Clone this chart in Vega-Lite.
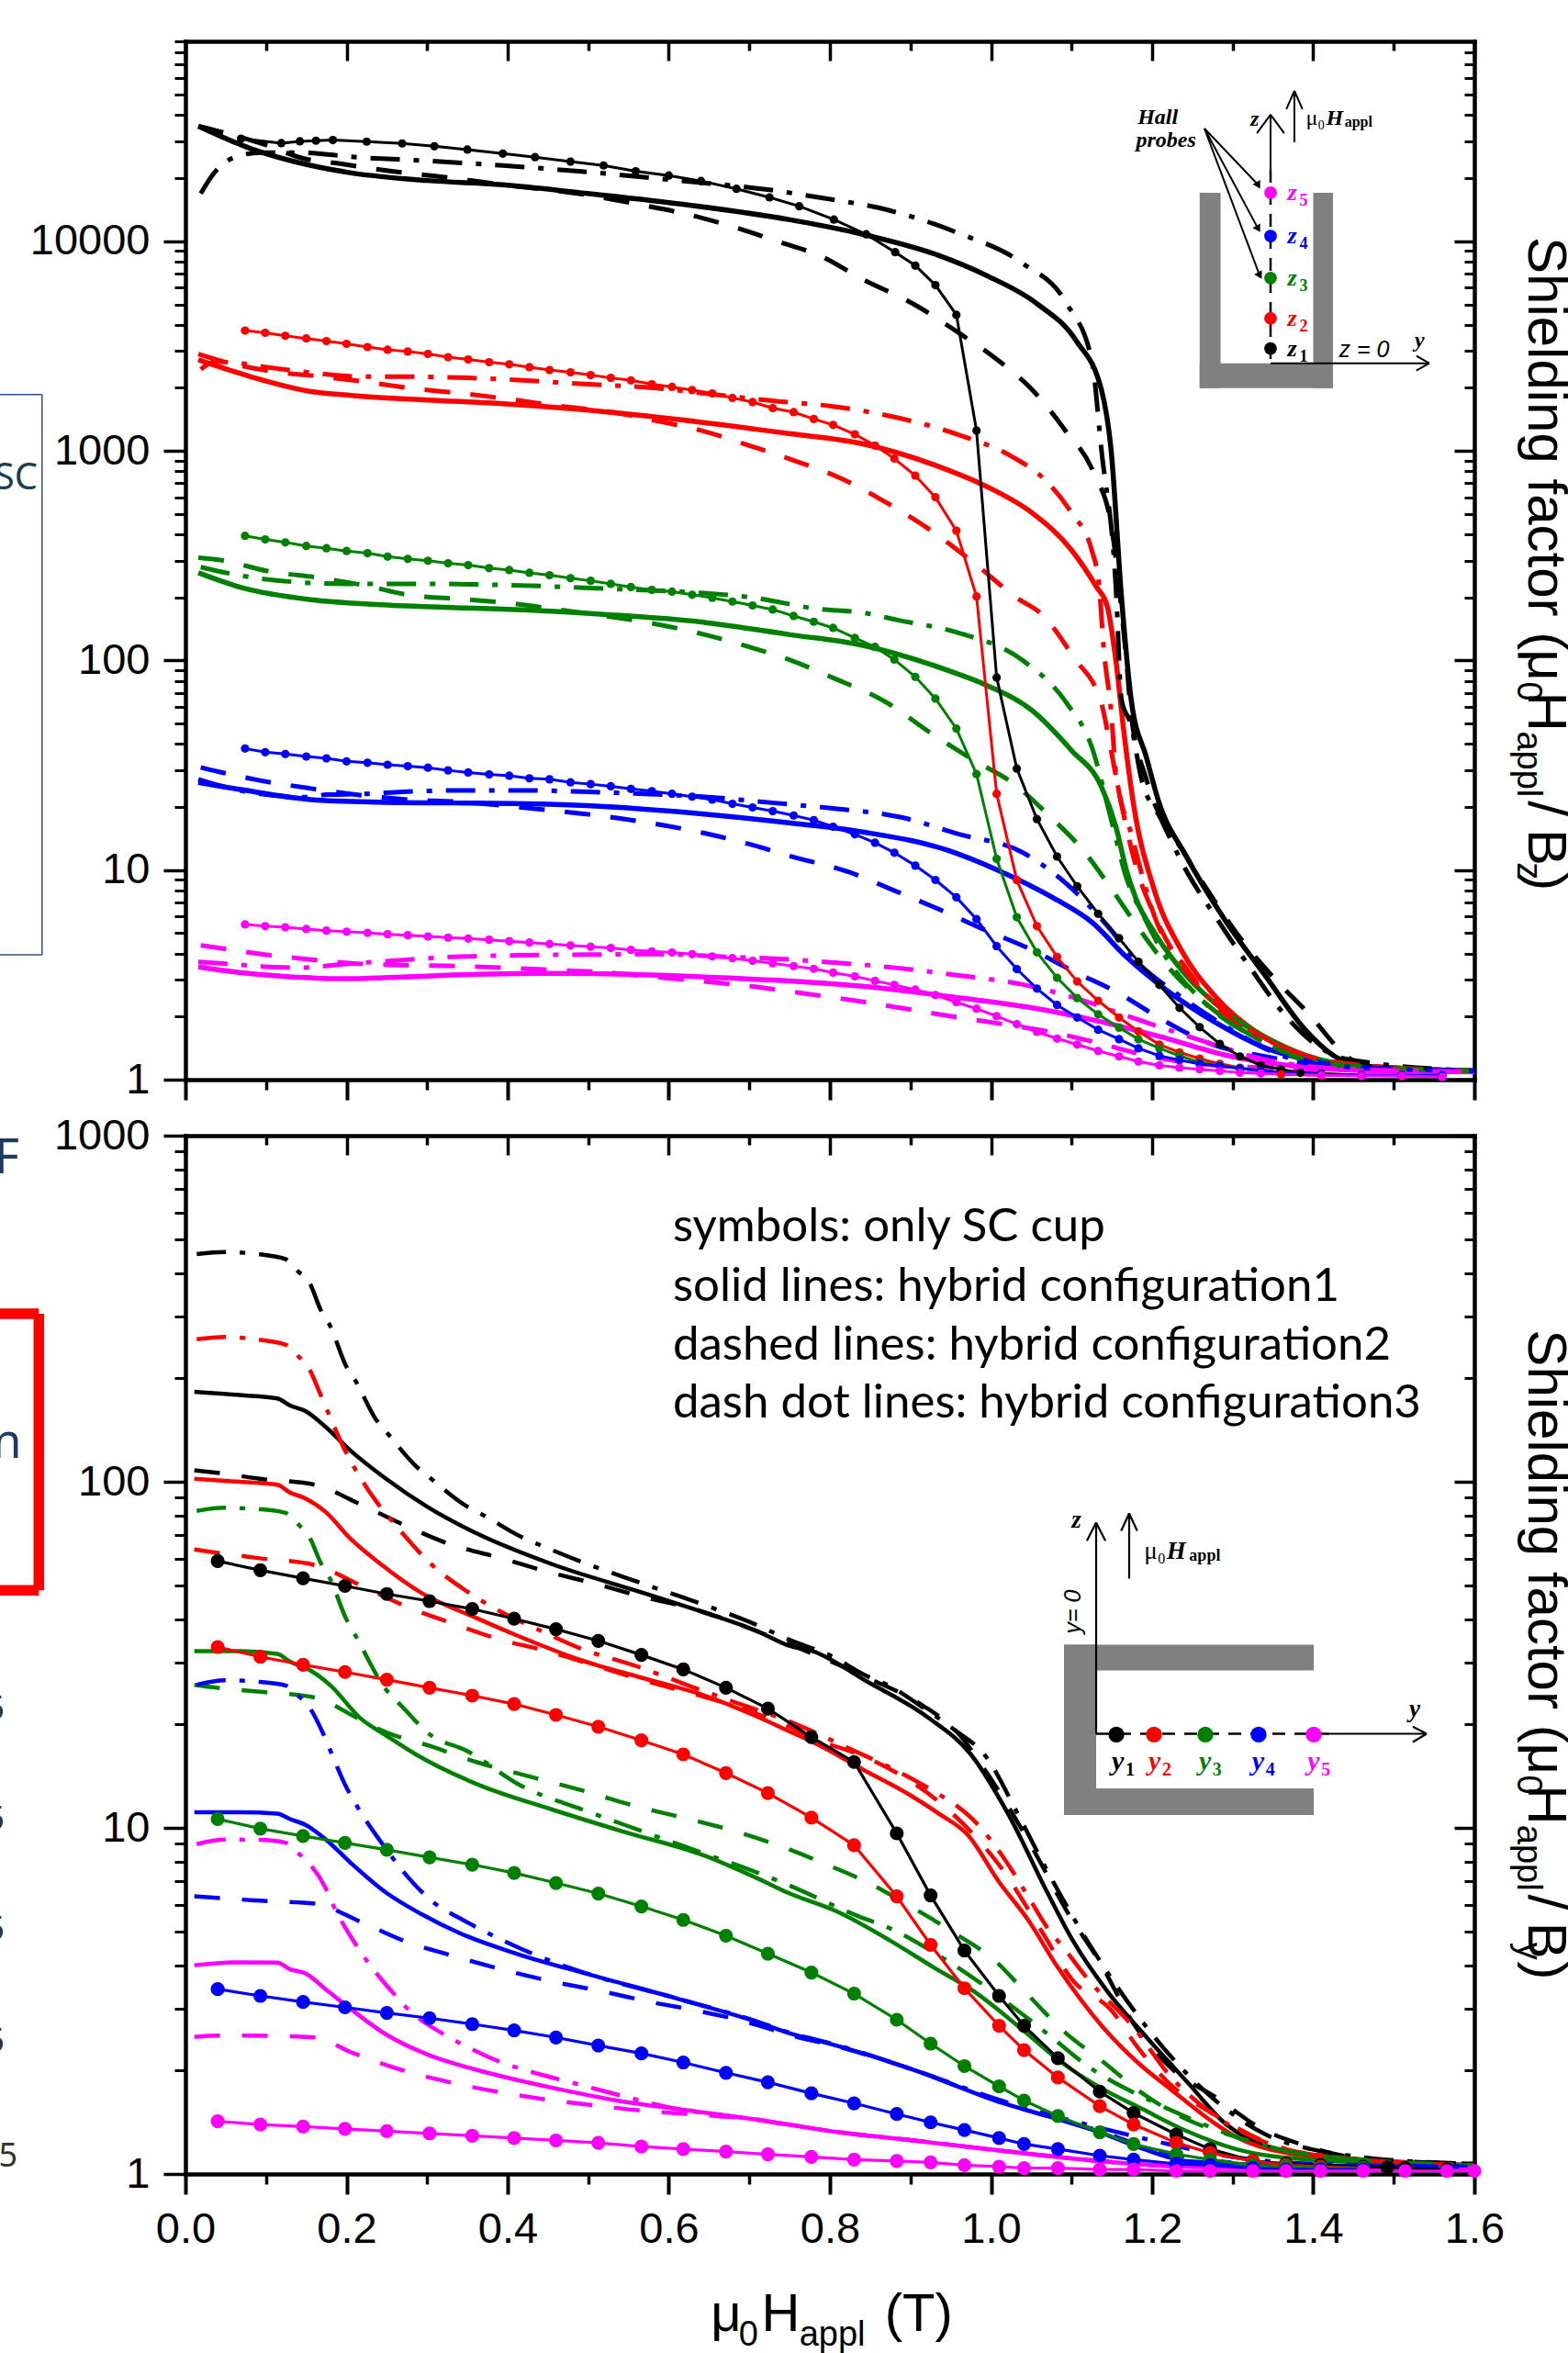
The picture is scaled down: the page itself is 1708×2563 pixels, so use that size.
{"$schema":"https://vega.github.io/schema/vega-lite/v6.json","autosize":"none","padding":{"left":202,"top":45,"right":1506,"bottom":2518},"background":"white","bounds":"flush","spacing":61,"config":{"view":{"stroke":null},"axis":{"grid":false,"title":null,"labelFont":"Liberation Sans","labelFontSize":47,"labelColor":"black","tickColor":"black","domainColor":"black","domainCap":"square","labelFlush":false,"labelOverlap":false,"labelBound":false}},
"datasets":{
"topSolid":[
{"probe":1,"x":0.016,"y":35400},{"probe":1,"x":0.081,"y":27700},{"probe":1,"x":0.156,"y":23000},{"probe":1,"x":0.206,"y":21200},{"probe":1,"x":0.3,"y":19500},{"probe":1,"x":0.394,"y":18600},{"probe":1,"x":0.4875,"y":17100},{"probe":1,"x":0.6125,"y":15100},{"probe":1,"x":0.749,"y":12700},{"probe":1,"x":0.841,"y":10800},{"probe":1,"x":0.934,"y":8590},{"probe":1,"x":0.995,"y":6850},{"probe":1,"x":1.057,"y":5040},{"probe":1,"x":1.106,"y":3340},{"probe":1,"x":1.137,"y":1960},{"probe":1,"x":1.149,"y":1016},{"probe":1,"x":1.162,"y":200},{"probe":1,"x":1.174,"y":65},{"probe":1,"x":1.193,"y":34.4},{"probe":1,"x":1.208,"y":21.3},{"probe":1,"x":1.242,"y":11.7},{"probe":1,"x":1.291,"y":5.73},{"probe":1,"x":1.34,"y":3.15},{"probe":1,"x":1.39,"y":1.73},{"probe":1,"x":1.427,"y":1.29},{"probe":1,"x":1.464,"y":1.16},{"probe":1,"x":1.6,"y":1.1},
{"probe":2,"x":0.016,"y":2720},{"probe":2,"x":0.081,"y":2260},{"probe":2,"x":0.156,"y":1920},{"probe":2,"x":0.206,"y":1840},{"probe":2,"x":0.3,"y":1750},{"probe":2,"x":0.394,"y":1680},{"probe":2,"x":0.4875,"y":1580},{"probe":2,"x":0.6125,"y":1410},{"probe":2,"x":0.749,"y":1210},{"probe":2,"x":0.841,"y":1080},{"probe":2,"x":0.934,"y":845},{"probe":2,"x":0.995,"y":675},{"probe":2,"x":1.051,"y":506},{"probe":2,"x":1.1,"y":336},{"probe":2,"x":1.131,"y":224},{"probe":2,"x":1.144,"y":183},{"probe":2,"x":1.155,"y":100},{"probe":2,"x":1.165,"y":45.4},{"probe":2,"x":1.177,"y":20.5},{"probe":2,"x":1.202,"y":8.18},{"probe":2,"x":1.236,"y":4.16},{"probe":2,"x":1.279,"y":2.48},{"probe":2,"x":1.335,"y":1.63},{"probe":2,"x":1.39,"y":1.29},{"probe":2,"x":1.458,"y":1.16},{"probe":2,"x":1.6,"y":1.1},
{"probe":3,"x":0.016,"y":262},{"probe":3,"x":0.069,"y":223},{"probe":3,"x":0.156,"y":195},{"probe":3,"x":0.2375,"y":185},{"probe":3,"x":0.331,"y":179},{"probe":3,"x":0.425,"y":174},{"probe":3,"x":0.519,"y":166},{"probe":3,"x":0.644,"y":152},{"probe":3,"x":0.749,"y":133},{"probe":3,"x":0.841,"y":118},{"probe":3,"x":0.947,"y":89.5},{"probe":3,"x":0.995,"y":76},{"probe":3,"x":1.051,"y":57.7},{"probe":3,"x":1.1,"y":37.2},{"probe":3,"x":1.137,"y":25},{"probe":3,"x":1.155,"y":16.1},{"probe":3,"x":1.168,"y":10},{"probe":3,"x":1.18,"y":7.3},{"probe":3,"x":1.205,"y":4.89},{"probe":3,"x":1.242,"y":3.15},{"probe":3,"x":1.291,"y":2.11},{"probe":3,"x":1.34,"y":1.6},{"probe":3,"x":1.39,"y":1.31},{"probe":3,"x":1.458,"y":1.16},{"probe":3,"x":1.6,"y":1.1},
{"probe":4,"x":0.016,"y":26.2},{"probe":4,"x":0.069,"y":24.2},{"probe":4,"x":0.156,"y":21.7},{"probe":4,"x":0.2375,"y":21.1},{"probe":4,"x":0.331,"y":20.9},{"probe":4,"x":0.425,"y":20.7},{"probe":4,"x":0.519,"y":20.1},{"probe":4,"x":0.644,"y":18.5},{"probe":4,"x":0.749,"y":16.8},{"probe":4,"x":0.841,"y":15.2},{"probe":4,"x":0.947,"y":12.4},{"probe":4,"x":1.008,"y":10},{"probe":4,"x":1.076,"y":7.41},{"probe":4,"x":1.126,"y":5.61},{"probe":4,"x":1.168,"y":3.85},{"probe":4,"x":1.217,"y":2.69},{"probe":4,"x":1.279,"y":1.87},{"probe":4,"x":1.34,"y":1.42},{"probe":4,"x":1.408,"y":1.21},{"probe":4,"x":1.489,"y":1.12},{"probe":4,"x":1.6,"y":1.1},
{"probe":5,"x":0.016,"y":3.45},{"probe":5,"x":0.069,"y":3.24},{"probe":5,"x":0.156,"y":3.06},{"probe":5,"x":0.194,"y":3.03},{"probe":5,"x":0.269,"y":3.09},{"probe":5,"x":0.3625,"y":3.18},{"probe":5,"x":0.456,"y":3.21},{"probe":5,"x":0.55,"y":3.18},{"probe":5,"x":0.644,"y":3.09},{"probe":5,"x":0.749,"y":2.96},{"probe":5,"x":0.841,"y":2.79},{"probe":5,"x":0.953,"y":2.48},{"probe":5,"x":1.051,"y":2.2},{"probe":5,"x":1.131,"y":1.91},{"probe":5,"x":1.211,"y":1.6},{"probe":5,"x":1.291,"y":1.31},{"probe":5,"x":1.377,"y":1.16},{"probe":5,"x":1.489,"y":1.1},{"probe":5,"x":1.6,"y":1.09}],
"topDash":[
{"probe":1,"x":0.016,"y":35400},{"probe":1,"x":0.044,"y":33300},{"probe":1,"x":0.1,"y":28800},{"probe":1,"x":0.144,"y":25000},{"probe":1,"x":0.194,"y":23400},{"probe":1,"x":0.256,"y":21600},{"probe":1,"x":0.319,"y":20300},{"probe":1,"x":0.381,"y":18900},{"probe":1,"x":0.5,"y":16600},{"probe":1,"x":0.5625,"y":15000},{"probe":1,"x":0.625,"y":13400},{"probe":1,"x":0.681,"y":11700},{"probe":1,"x":0.738,"y":9900},{"probe":1,"x":0.786,"y":8590},{"probe":1,"x":0.841,"y":6580},{"probe":1,"x":0.903,"y":5040},{"probe":1,"x":0.958,"y":3700},{"probe":1,"x":1.008,"y":2720},{"probe":1,"x":1.051,"y":1960},{"probe":1,"x":1.091,"y":1270},{"probe":1,"x":1.128,"y":778},{"probe":1,"x":1.149,"y":447},{"probe":1,"x":1.159,"y":224},{"probe":1,"x":1.168,"y":101},{"probe":1,"x":1.174,"y":55},{"probe":1,"x":1.193,"y":27},{"probe":1,"x":1.242,"y":11.7},{"probe":1,"x":1.273,"y":7.57},{"probe":1,"x":1.307,"y":4.87},{"probe":1,"x":1.35,"y":3.09},{"probe":1,"x":1.396,"y":2.03},{"probe":1,"x":1.433,"y":1.39},{"probe":1,"x":1.464,"y":1.16},{"probe":1,"x":1.6,"y":1.1},
{"probe":2,"x":0.016,"y":2900},{"probe":2,"x":0.047,"y":2670},{"probe":2,"x":0.106,"y":2400},{"probe":2,"x":0.169,"y":2260},{"probe":2,"x":0.225,"y":2130},{"probe":2,"x":0.275,"y":2000},{"probe":2,"x":0.344,"y":1880},{"probe":2,"x":0.4,"y":1770},{"probe":2,"x":0.4625,"y":1640},{"probe":2,"x":0.531,"y":1530},{"probe":2,"x":0.581,"y":1400},{"probe":2,"x":0.644,"y":1240},{"probe":2,"x":0.7,"y":1060},{"probe":2,"x":0.749,"y":918},{"probe":2,"x":0.816,"y":733},{"probe":2,"x":0.872,"y":561},{"probe":2,"x":0.924,"y":421},{"probe":2,"x":0.977,"y":296},{"probe":2,"x":1.032,"y":199},{"probe":2,"x":1.063,"y":166},{"probe":2,"x":1.103,"y":103},{"probe":2,"x":1.137,"y":62.5},{"probe":2,"x":1.149,"y":37.2},{"probe":2,"x":1.162,"y":20.5},{"probe":2,"x":1.18,"y":10.4},{"probe":2,"x":1.202,"y":6.19},{"probe":2,"x":1.236,"y":3.55},{"probe":2,"x":1.291,"y":2.11},{"probe":2,"x":1.365,"y":1.42},{"probe":2,"x":1.427,"y":1.21},{"probe":2,"x":1.6,"y":1.1},
{"probe":3,"x":0.016,"y":309},{"probe":3,"x":0.047,"y":300},{"probe":3,"x":0.1,"y":268},{"probe":3,"x":0.169,"y":247},{"probe":3,"x":0.225,"y":227},{"probe":3,"x":0.275,"y":206},{"probe":3,"x":0.344,"y":196},{"probe":3,"x":0.406,"y":187},{"probe":3,"x":0.4625,"y":175},{"probe":3,"x":0.531,"y":161},{"probe":3,"x":0.581,"y":150},{"probe":3,"x":0.644,"y":133},{"probe":3,"x":0.7,"y":116},{"probe":3,"x":0.749,"y":101},{"probe":3,"x":0.804,"y":82.6},{"probe":3,"x":0.872,"y":62.5},{"probe":3,"x":0.924,"y":45.4},{"probe":3,"x":0.977,"y":33.7},{"probe":3,"x":1.027,"y":26},{"probe":3,"x":1.072,"y":18.2},{"probe":3,"x":1.116,"y":12.2},{"probe":3,"x":1.149,"y":8.18},{"probe":3,"x":1.18,"y":5.5},{"probe":3,"x":1.217,"y":3.55},{"probe":3,"x":1.279,"y":2.11},{"probe":3,"x":1.365,"y":1.36},{"probe":3,"x":1.427,"y":1.16},{"probe":3,"x":1.6,"y":1.1},
{"probe":4,"x":0.019,"y":30.9},{"probe":4,"x":0.047,"y":29.1},{"probe":4,"x":0.094,"y":26.7},{"probe":4,"x":0.156,"y":24.5},{"probe":4,"x":0.225,"y":22.6},{"probe":4,"x":0.275,"y":21.7},{"probe":4,"x":0.344,"y":21.1},{"probe":4,"x":0.4,"y":20.2},{"probe":4,"x":0.4625,"y":19.1},{"probe":4,"x":0.522,"y":18},{"probe":4,"x":0.584,"y":16.6},{"probe":4,"x":0.644,"y":15},{"probe":4,"x":0.703,"y":13.2},{"probe":4,"x":0.749,"y":11.7},{"probe":4,"x":0.823,"y":9.8},{"probe":4,"x":0.878,"y":8.04},{"probe":4,"x":0.937,"y":6.46},{"probe":4,"x":0.992,"y":5.19},{"probe":4,"x":1.051,"y":4.16},{"probe":4,"x":1.103,"y":3.28},{"probe":4,"x":1.159,"y":2.58},{"probe":4,"x":1.211,"y":1.95},{"probe":4,"x":1.273,"y":1.48},{"probe":4,"x":1.34,"y":1.29},{"probe":4,"x":1.402,"y":1.19},{"probe":4,"x":1.6,"y":1.1},
{"probe":5,"x":0.019,"y":4.37},{"probe":5,"x":0.047,"y":4.22},{"probe":5,"x":0.094,"y":3.97},{"probe":5,"x":0.156,"y":3.74},{"probe":5,"x":0.206,"y":3.59},{"probe":5,"x":0.269,"y":3.52},{"probe":5,"x":0.341,"y":3.48},{"probe":5,"x":0.403,"y":3.41},{"probe":5,"x":0.466,"y":3.32},{"probe":5,"x":0.522,"y":3.25},{"probe":5,"x":0.581,"y":3.09},{"probe":5,"x":0.65,"y":2.93},{"probe":5,"x":0.709,"y":2.77},{"probe":5,"x":0.767,"y":2.58},{"probe":5,"x":0.832,"y":2.38},{"probe":5,"x":0.894,"y":2.18},{"probe":5,"x":0.956,"y":1.99},{"probe":5,"x":1.015,"y":1.84},{"probe":5,"x":1.07,"y":1.7},{"probe":5,"x":1.135,"y":1.49},{"probe":5,"x":1.18,"y":1.34},{"probe":5,"x":1.242,"y":1.21},{"probe":5,"x":1.365,"y":1.13},{"probe":5,"x":1.6,"y":1.09}],
"topDot":[
{"probe":1,"x":0.019,"y":16900},{"probe":1,"x":0.034,"y":20800},{"probe":1,"x":0.059,"y":25000},{"probe":1,"x":0.094,"y":26500},{"probe":1,"x":0.144,"y":26500},{"probe":1,"x":0.206,"y":25300},{"probe":1,"x":0.3,"y":24200},{"probe":1,"x":0.394,"y":23000},{"probe":1,"x":0.4875,"y":21600},{"probe":1,"x":0.6125,"y":19500},{"probe":1,"x":0.725,"y":17600},{"probe":1,"x":0.786,"y":16200},{"probe":1,"x":0.872,"y":14100},{"probe":1,"x":0.958,"y":11000},{"probe":1,"x":1.038,"y":7900},{"probe":1,"x":1.094,"y":5040},{"probe":1,"x":1.125,"y":2720},{"probe":1,"x":1.137,"y":1016},{"probe":1,"x":1.155,"y":224},{"probe":1,"x":1.162,"y":65},{"probe":1,"x":1.174,"y":49},{"probe":1,"x":1.186,"y":28},{"probe":1,"x":1.211,"y":17.5},{"probe":1,"x":1.242,"y":10},{"probe":1,"x":1.279,"y":5.96},{"probe":1,"x":1.322,"y":3.41},{"probe":1,"x":1.365,"y":2.03},{"probe":1,"x":1.402,"y":1.48},{"probe":1,"x":1.439,"y":1.26},{"probe":1,"x":1.6,"y":1.1},
{"probe":2,"x":0.019,"y":2450},{"probe":2,"x":0.0375,"y":2670},{"probe":2,"x":0.069,"y":2610},{"probe":2,"x":0.1,"y":2510},{"probe":2,"x":0.156,"y":2360},{"probe":2,"x":0.219,"y":2260},{"probe":2,"x":0.269,"y":2260},{"probe":2,"x":0.35,"y":2230},{"probe":2,"x":0.419,"y":2170},{"probe":2,"x":0.5,"y":2080},{"probe":2,"x":0.581,"y":2000},{"probe":2,"x":0.644,"y":1880},{"probe":2,"x":0.731,"y":1730},{"probe":2,"x":0.804,"y":1630},{"probe":2,"x":0.884,"y":1440},{"probe":2,"x":0.958,"y":1200},{"probe":2,"x":1.027,"y":935},{"probe":2,"x":1.064,"y":746},{"probe":2,"x":1.1,"y":506},{"probe":2,"x":1.125,"y":336},{"probe":2,"x":1.134,"y":232},{"probe":2,"x":1.14,"y":113},{"probe":2,"x":1.149,"y":57.7},{"probe":2,"x":1.155,"y":29.3},{"probe":2,"x":1.174,"y":14.9},{"probe":2,"x":1.205,"y":5.73},{"probe":2,"x":1.242,"y":3.41},{"probe":2,"x":1.291,"y":2.03},{"probe":2,"x":1.365,"y":1.42},{"probe":2,"x":1.427,"y":1.21},{"probe":2,"x":1.6,"y":1.1},
{"probe":3,"x":0.019,"y":279},{"probe":3,"x":0.069,"y":254},{"probe":3,"x":0.1,"y":244},{"probe":3,"x":0.2,"y":232},{"probe":3,"x":0.3,"y":232},{"probe":3,"x":0.4,"y":229},{"probe":3,"x":0.5375,"y":219},{"probe":3,"x":0.604,"y":214},{"probe":3,"x":0.706,"y":199},{"probe":3,"x":0.786,"y":176},{"probe":3,"x":0.841,"y":169},{"probe":3,"x":0.884,"y":156},{"probe":3,"x":0.958,"y":136},{"probe":3,"x":1.038,"y":101},{"probe":3,"x":1.094,"y":62.5},{"probe":3,"x":1.125,"y":38.7},{"probe":3,"x":1.149,"y":17.5},{"probe":3,"x":1.168,"y":9.2},{"probe":3,"x":1.19,"y":5.96},{"probe":3,"x":1.217,"y":3.85},{"probe":3,"x":1.267,"y":2.29},{"probe":3,"x":1.335,"y":1.54},{"probe":3,"x":1.402,"y":1.21},{"probe":3,"x":1.6,"y":1.1},
{"probe":4,"x":0.016,"y":27.1},{"probe":4,"x":0.047,"y":25},{"probe":4,"x":0.15,"y":22.3},{"probe":4,"x":0.175,"y":22.9},{"probe":4,"x":0.225,"y":23.1},{"probe":4,"x":0.269,"y":23.6},{"probe":4,"x":0.344,"y":24},{"probe":4,"x":0.425,"y":24},{"probe":4,"x":0.5,"y":23.6},{"probe":4,"x":0.569,"y":23.1},{"probe":4,"x":0.656,"y":22.2},{"probe":4,"x":0.731,"y":20.9},{"probe":4,"x":0.803,"y":19.7},{"probe":4,"x":0.89,"y":17.8},{"probe":4,"x":0.958,"y":14.9},{"probe":4,"x":1.038,"y":12.2},{"probe":4,"x":1.1,"y":8.18},{"probe":4,"x":1.143,"y":5.5},{"probe":4,"x":1.18,"y":3.69},{"probe":4,"x":1.23,"y":2.58},{"probe":4,"x":1.291,"y":1.8},{"probe":4,"x":1.359,"y":1.31},{"probe":4,"x":1.427,"y":1.16},{"probe":4,"x":1.6,"y":1.1},
{"probe":5,"x":0.016,"y":3.65},{"probe":5,"x":0.047,"y":3.58},{"probe":5,"x":0.094,"y":3.47},{"probe":5,"x":0.144,"y":3.42},{"probe":5,"x":0.194,"y":3.55},{"probe":5,"x":0.256,"y":3.69},{"probe":5,"x":0.331,"y":3.85},{"probe":5,"x":0.4125,"y":3.92},{"probe":5,"x":0.5,"y":3.95},{"probe":5,"x":0.581,"y":3.97},{"probe":5,"x":0.675,"y":3.85},{"probe":5,"x":0.731,"y":3.78},{"probe":5,"x":0.804,"y":3.62},{"probe":5,"x":0.884,"y":3.41},{"probe":5,"x":0.958,"y":3.15},{"probe":5,"x":1.038,"y":2.85},{"probe":5,"x":1.1,"y":2.48},{"probe":5,"x":1.18,"y":1.95},{"probe":5,"x":1.26,"y":1.54},{"probe":5,"x":1.335,"y":1.26},{"probe":5,"x":1.427,"y":1.13},{"probe":5,"x":1.6,"y":1.09}],
"topSym":[
{"probe":1,"x":0.069,"y":30900},{"probe":1,"x":0.119,"y":29400},{"probe":1,"x":0.142,"y":30000},{"probe":1,"x":0.162,"y":30200},{"probe":1,"x":0.183,"y":30400},{"probe":1,"x":0.225,"y":29900},{"probe":1,"x":0.269,"y":29300},{"probe":1,"x":0.309,"y":28400},{"probe":1,"x":0.35,"y":27400},{"probe":1,"x":0.394,"y":26200},{"probe":1,"x":0.434,"y":25200},{"probe":1,"x":0.478,"y":24000},{"probe":1,"x":0.519,"y":23000},{"probe":1,"x":0.559,"y":21600},{"probe":1,"x":0.6,"y":20600},{"probe":1,"x":0.64,"y":19400},{"probe":1,"x":0.684,"y":17800},{"probe":1,"x":0.725,"y":16200},{"probe":1,"x":0.762,"y":14700},{"probe":1,"x":0.805,"y":12700},{"probe":1,"x":0.845,"y":10800},{"probe":1,"x":0.881,"y":8870},{"probe":1,"x":0.906,"y":7660},{"probe":1,"x":0.931,"y":6180},{"probe":1,"x":0.957,"y":4460},{"probe":1,"x":0.982,"y":1250},{"probe":1,"x":1.007,"y":83},{"probe":1,"x":1.032,"y":30.5},{"probe":1,"x":1.057,"y":17.5},{"probe":1,"x":1.082,"y":11.6},{"probe":1,"x":1.107,"y":8.36},{"probe":1,"x":1.133,"y":6.19},{"probe":1,"x":1.159,"y":4.73},{"probe":1,"x":1.183,"y":3.65},{"probe":1,"x":1.209,"y":2.83},{"probe":1,"x":1.234,"y":2.2},{"probe":1,"x":1.259,"y":1.78},{"probe":1,"x":1.284,"y":1.48},{"probe":1,"x":1.309,"y":1.29},{"probe":1,"x":1.335,"y":1.17},{"probe":1,"x":1.36,"y":1.12},{"probe":1,"x":1.384,"y":1.08},{"probe":1,"x":1.41,"y":1.07},{"probe":1,"x":1.46,"y":1.05},{"probe":1,"x":1.51,"y":1.05},{"probe":1,"x":1.56,"y":1.04},
{"probe":2,"x":0.074,"y":3750},{"probe":2,"x":0.099,"y":3660},{"probe":2,"x":0.124,"y":3540},{"probe":2,"x":0.15,"y":3440},{"probe":2,"x":0.175,"y":3340},{"probe":2,"x":0.2,"y":3240},{"probe":2,"x":0.226,"y":3130},{"probe":2,"x":0.251,"y":3040},{"probe":2,"x":0.276,"y":2980},{"probe":2,"x":0.301,"y":2900},{"probe":2,"x":0.326,"y":2800},{"probe":2,"x":0.351,"y":2730},{"probe":2,"x":0.377,"y":2650},{"probe":2,"x":0.402,"y":2590},{"probe":2,"x":0.427,"y":2510},{"probe":2,"x":0.452,"y":2430},{"probe":2,"x":0.478,"y":2370},{"probe":2,"x":0.503,"y":2300},{"probe":2,"x":0.528,"y":2230},{"probe":2,"x":0.553,"y":2170},{"probe":2,"x":0.579,"y":2080},{"probe":2,"x":0.604,"y":2020},{"probe":2,"x":0.629,"y":1950},{"probe":2,"x":0.654,"y":1880},{"probe":2,"x":0.679,"y":1790},{"probe":2,"x":0.704,"y":1710},{"probe":2,"x":0.729,"y":1600},{"probe":2,"x":0.755,"y":1530},{"probe":2,"x":0.78,"y":1420},{"probe":2,"x":0.804,"y":1330},{"probe":2,"x":0.831,"y":1200},{"probe":2,"x":0.856,"y":1060},{"probe":2,"x":0.88,"y":918},{"probe":2,"x":0.906,"y":762},{"probe":2,"x":0.931,"y":601},{"probe":2,"x":0.957,"y":416},{"probe":2,"x":0.982,"y":202},{"probe":2,"x":1.007,"y":23.1},{"probe":2,"x":1.032,"y":8.95},{"probe":2,"x":1.057,"y":5.4},{"probe":2,"x":1.082,"y":3.85},{"probe":2,"x":1.107,"y":2.94},{"probe":2,"x":1.133,"y":2.38},{"probe":2,"x":1.159,"y":1.98},{"probe":2,"x":1.183,"y":1.7},{"probe":2,"x":1.209,"y":1.47},{"probe":2,"x":1.234,"y":1.35},{"probe":2,"x":1.259,"y":1.26},{"probe":2,"x":1.284,"y":1.19},{"probe":2,"x":1.309,"y":1.14},{"probe":2,"x":1.335,"y":1.1},{"probe":2,"x":1.36,"y":1.06},{"probe":2,"x":1.41,"y":1.05},{"probe":2,"x":1.46,"y":1.05},{"probe":2,"x":1.51,"y":1.04},{"probe":2,"x":1.56,"y":1.04},
{"probe":3,"x":0.074,"y":393},{"probe":3,"x":0.099,"y":378},{"probe":3,"x":0.124,"y":366},{"probe":3,"x":0.15,"y":352},{"probe":3,"x":0.175,"y":343},{"probe":3,"x":0.2,"y":333},{"probe":3,"x":0.226,"y":325},{"probe":3,"x":0.251,"y":313},{"probe":3,"x":0.276,"y":305},{"probe":3,"x":0.301,"y":299},{"probe":3,"x":0.326,"y":291},{"probe":3,"x":0.351,"y":285},{"probe":3,"x":0.377,"y":276},{"probe":3,"x":0.402,"y":270},{"probe":3,"x":0.427,"y":262},{"probe":3,"x":0.452,"y":255},{"probe":3,"x":0.478,"y":247},{"probe":3,"x":0.503,"y":240},{"probe":3,"x":0.528,"y":232},{"probe":3,"x":0.553,"y":224},{"probe":3,"x":0.579,"y":217},{"probe":3,"x":0.604,"y":213},{"probe":3,"x":0.629,"y":206},{"probe":3,"x":0.654,"y":199},{"probe":3,"x":0.679,"y":191},{"probe":3,"x":0.704,"y":183},{"probe":3,"x":0.729,"y":175},{"probe":3,"x":0.755,"y":163},{"probe":3,"x":0.78,"y":153},{"probe":3,"x":0.804,"y":143},{"probe":3,"x":0.831,"y":128},{"probe":3,"x":0.856,"y":116},{"probe":3,"x":0.88,"y":101},{"probe":3,"x":0.906,"y":83.5},{"probe":3,"x":0.931,"y":65.8},{"probe":3,"x":0.957,"y":47.3},{"probe":3,"x":0.982,"y":28.7},{"probe":3,"x":1.007,"y":11.3},{"probe":3,"x":1.032,"y":5.96},{"probe":3,"x":1.057,"y":4.05},{"probe":3,"x":1.082,"y":3.06},{"probe":3,"x":1.107,"y":2.45},{"probe":3,"x":1.133,"y":2.05},{"probe":3,"x":1.159,"y":1.77},{"probe":3,"x":1.183,"y":1.56},{"probe":3,"x":1.209,"y":1.41},{"probe":3,"x":1.234,"y":1.3},{"probe":3,"x":1.259,"y":1.21},{"probe":3,"x":1.284,"y":1.17},{"probe":3,"x":1.309,"y":1.13},{"probe":3,"x":1.335,"y":1.1},{"probe":3,"x":1.41,"y":1.06},{"probe":3,"x":1.46,"y":1.05},{"probe":3,"x":1.51,"y":1.05},{"probe":3,"x":1.56,"y":1.05},
{"probe":4,"x":0.074,"y":38},{"probe":4,"x":0.099,"y":36.5},{"probe":4,"x":0.124,"y":35.8},{"probe":4,"x":0.15,"y":34.8},{"probe":4,"x":0.175,"y":34.1},{"probe":4,"x":0.2,"y":33},{"probe":4,"x":0.226,"y":32.5},{"probe":4,"x":0.251,"y":31.8},{"probe":4,"x":0.276,"y":31.3},{"probe":4,"x":0.301,"y":30.8},{"probe":4,"x":0.326,"y":29.9},{"probe":4,"x":0.351,"y":29.2},{"probe":4,"x":0.377,"y":28.6},{"probe":4,"x":0.402,"y":28.2},{"probe":4,"x":0.427,"y":27.4},{"probe":4,"x":0.452,"y":27.1},{"probe":4,"x":0.478,"y":26.2},{"probe":4,"x":0.503,"y":25.7},{"probe":4,"x":0.528,"y":25.1},{"probe":4,"x":0.553,"y":24.4},{"probe":4,"x":0.579,"y":23.8},{"probe":4,"x":0.604,"y":23.1},{"probe":4,"x":0.629,"y":22.4},{"probe":4,"x":0.654,"y":21.7},{"probe":4,"x":0.679,"y":20.7},{"probe":4,"x":0.704,"y":19.9},{"probe":4,"x":0.729,"y":19.1},{"probe":4,"x":0.755,"y":18.2},{"probe":4,"x":0.78,"y":17.3},{"probe":4,"x":0.804,"y":16.1},{"probe":4,"x":0.831,"y":14.8},{"probe":4,"x":0.856,"y":13.5},{"probe":4,"x":0.88,"y":12.1},{"probe":4,"x":0.906,"y":10.5},{"probe":4,"x":0.931,"y":8.97},{"probe":4,"x":0.957,"y":7.41},{"probe":4,"x":0.982,"y":5.83},{"probe":4,"x":1.007,"y":4.33},{"probe":4,"x":1.032,"y":3.37},{"probe":4,"x":1.057,"y":2.72},{"probe":4,"x":1.082,"y":2.27},{"probe":4,"x":1.107,"y":1.98},{"probe":4,"x":1.133,"y":1.73},{"probe":4,"x":1.159,"y":1.56},{"probe":4,"x":1.183,"y":1.41},{"probe":4,"x":1.209,"y":1.3},{"probe":4,"x":1.234,"y":1.24},{"probe":4,"x":1.259,"y":1.19},{"probe":4,"x":1.284,"y":1.16},{"probe":4,"x":1.309,"y":1.13},{"probe":4,"x":1.335,"y":1.1},{"probe":4,"x":1.41,"y":1.06},{"probe":4,"x":1.46,"y":1.05},{"probe":4,"x":1.51,"y":1.05},{"probe":4,"x":1.56,"y":1.05},
{"probe":5,"x":0.074,"y":5.5},{"probe":5,"x":0.099,"y":5.4},{"probe":5,"x":0.124,"y":5.33},{"probe":5,"x":0.15,"y":5.23},{"probe":5,"x":0.175,"y":5.14},{"probe":5,"x":0.2,"y":5.08},{"probe":5,"x":0.226,"y":5.02},{"probe":5,"x":0.251,"y":4.94},{"probe":5,"x":0.276,"y":4.89},{"probe":5,"x":0.301,"y":4.82},{"probe":5,"x":0.326,"y":4.76},{"probe":5,"x":0.351,"y":4.71},{"probe":5,"x":0.377,"y":4.65},{"probe":5,"x":0.402,"y":4.58},{"probe":5,"x":0.427,"y":4.51},{"probe":5,"x":0.452,"y":4.44},{"probe":5,"x":0.478,"y":4.37},{"probe":5,"x":0.503,"y":4.31},{"probe":5,"x":0.528,"y":4.25},{"probe":5,"x":0.553,"y":4.16},{"probe":5,"x":0.579,"y":4.09},{"probe":5,"x":0.604,"y":4.04},{"probe":5,"x":0.629,"y":3.97},{"probe":5,"x":0.654,"y":3.87},{"probe":5,"x":0.679,"y":3.8},{"probe":5,"x":0.704,"y":3.69},{"probe":5,"x":0.729,"y":3.59},{"probe":5,"x":0.755,"y":3.48},{"probe":5,"x":0.78,"y":3.38},{"probe":5,"x":0.804,"y":3.24},{"probe":5,"x":0.831,"y":3.11},{"probe":5,"x":0.856,"y":2.96},{"probe":5,"x":0.88,"y":2.83},{"probe":5,"x":0.906,"y":2.69},{"probe":5,"x":0.931,"y":2.53},{"probe":5,"x":0.957,"y":2.34},{"probe":5,"x":0.982,"y":2.18},{"probe":5,"x":1.007,"y":2.01},{"probe":5,"x":1.032,"y":1.84},{"probe":5,"x":1.057,"y":1.69},{"probe":5,"x":1.082,"y":1.57},{"probe":5,"x":1.107,"y":1.47},{"probe":5,"x":1.133,"y":1.37},{"probe":5,"x":1.159,"y":1.29},{"probe":5,"x":1.183,"y":1.22},{"probe":5,"x":1.209,"y":1.17},{"probe":5,"x":1.234,"y":1.14},{"probe":5,"x":1.259,"y":1.12},{"probe":5,"x":1.284,"y":1.1},{"probe":5,"x":1.309,"y":1.08},{"probe":5,"x":1.335,"y":1.07},{"probe":5,"x":1.41,"y":1.05},{"probe":5,"x":1.46,"y":1.04},{"probe":5,"x":1.51,"y":1.04},{"probe":5,"x":1.56,"y":1.03}],
"botSolid":[
{"probe":1,"x":0.011,"y":182},{"probe":1,"x":0.0675,"y":178},{"probe":1,"x":0.114,"y":174},{"probe":1,"x":0.13,"y":166},{"probe":1,"x":0.149,"y":160},{"probe":1,"x":0.174,"y":144},{"probe":1,"x":0.205,"y":123},{"probe":1,"x":0.249,"y":102},{"probe":1,"x":0.299,"y":85},{"probe":1,"x":0.361,"y":71},{"probe":1,"x":0.455,"y":57.8},{"probe":1,"x":0.5675,"y":47.8},{"probe":1,"x":0.6425,"y":42},{"probe":1,"x":0.711,"y":36.9},{"probe":1,"x":0.7475,"y":33.7},{"probe":1,"x":0.779,"y":32.4},{"probe":1,"x":0.847,"y":26.4},{"probe":1,"x":0.921,"y":20.9},{"probe":1,"x":0.975,"y":16.3},{"probe":1,"x":1.021,"y":11},{"probe":1,"x":1.07,"y":6.5},{"probe":1,"x":1.101,"y":4.75},{"probe":1,"x":1.144,"y":3.38},{"probe":1,"x":1.194,"y":2.47},{"probe":1,"x":1.243,"y":1.85},{"probe":1,"x":1.292,"y":1.39},{"probe":1,"x":1.354,"y":1.18},{"probe":1,"x":1.428,"y":1.12},{"probe":1,"x":1.6,"y":1.06},
{"probe":2,"x":0.011,"y":102},{"probe":2,"x":0.0675,"y":100},{"probe":2,"x":0.114,"y":98},{"probe":2,"x":0.13,"y":93},{"probe":2,"x":0.149,"y":89.5},{"probe":2,"x":0.174,"y":81.8},{"probe":2,"x":0.205,"y":68.4},{"probe":2,"x":0.2425,"y":57.8},{"probe":2,"x":0.2925,"y":47.8},{"probe":2,"x":0.361,"y":40.4},{"probe":2,"x":0.411,"y":36},{"probe":2,"x":0.486,"y":30.8},{"probe":2,"x":0.5675,"y":27.1},{"probe":2,"x":0.6425,"y":24.2},{"probe":2,"x":0.711,"y":20.9},{"probe":2,"x":0.7475,"y":19.1},{"probe":2,"x":0.781,"y":17.6},{"probe":2,"x":0.842,"y":14.7},{"probe":2,"x":0.898,"y":12.5},{"probe":2,"x":0.935,"y":11},{"probe":2,"x":0.972,"y":9.5},{"probe":2,"x":1.009,"y":7.03},{"probe":2,"x":1.046,"y":5.42},{"probe":2,"x":1.083,"y":3.95},{"probe":2,"x":1.138,"y":2.67},{"probe":2,"x":1.181,"y":2.11},{"probe":2,"x":1.224,"y":1.75},{"probe":2,"x":1.274,"y":1.42},{"probe":2,"x":1.304,"y":1.28},{"probe":2,"x":1.366,"y":1.15},{"probe":2,"x":1.459,"y":1.1},{"probe":2,"x":1.6,"y":1.06},
{"probe":3,"x":0.011,"y":32.4},{"probe":3,"x":0.0675,"y":32.4},{"probe":3,"x":0.114,"y":31.8},{"probe":3,"x":0.13,"y":30.2},{"probe":3,"x":0.155,"y":28.5},{"probe":3,"x":0.18,"y":25.8},{"probe":3,"x":0.2175,"y":20.7},{"probe":3,"x":0.249,"y":18.5},{"probe":3,"x":0.286,"y":16.3},{"probe":3,"x":0.361,"y":13.4},{"probe":3,"x":0.455,"y":11.3},{"probe":3,"x":0.5425,"y":9.77},{"probe":3,"x":0.6425,"y":8.34},{"probe":3,"x":0.711,"y":7.13},{"probe":3,"x":0.7475,"y":6.5},{"probe":3,"x":0.811,"y":5.7},{"probe":3,"x":0.873,"y":4.75},{"probe":3,"x":0.929,"y":3.95},{"probe":3,"x":0.978,"y":3.38},{"probe":3,"x":1.04,"y":2.6},{"probe":3,"x":1.083,"y":2.14},{"probe":3,"x":1.135,"y":1.78},{"probe":3,"x":1.188,"y":1.54},{"probe":3,"x":1.243,"y":1.33},{"probe":3,"x":1.304,"y":1.18},{"probe":3,"x":1.397,"y":1.1},{"probe":3,"x":1.6,"y":1.06},
{"probe":4,"x":0.011,"y":11.1},{"probe":4,"x":0.0675,"y":11.1},{"probe":4,"x":0.114,"y":11},{"probe":4,"x":0.13,"y":10.6},{"probe":4,"x":0.149,"y":10.2},{"probe":4,"x":0.174,"y":9.27},{"probe":4,"x":0.205,"y":7.93},{"probe":4,"x":0.249,"y":6.5},{"probe":4,"x":0.2925,"y":5.64},{"probe":4,"x":0.3425,"y":4.94},{"probe":4,"x":0.411,"y":4.33},{"probe":4,"x":0.505,"y":3.75},{"probe":4,"x":0.611,"y":3.21},{"probe":4,"x":0.705,"y":2.77},{"probe":4,"x":0.7475,"y":2.56},{"probe":4,"x":0.811,"y":2.34},{"probe":4,"x":0.904,"y":2},{"probe":4,"x":1.009,"y":1.62},{"probe":4,"x":1.083,"y":1.44},{"probe":4,"x":1.135,"y":1.32},{"probe":4,"x":1.181,"y":1.2},{"probe":4,"x":1.243,"y":1.09},{"probe":4,"x":1.366,"y":1.06},{"probe":4,"x":1.6,"y":1.05},
{"probe":5,"x":0.011,"y":4.01},{"probe":5,"x":0.0675,"y":4.09},{"probe":5,"x":0.114,"y":4.08},{"probe":5,"x":0.13,"y":3.9},{"probe":5,"x":0.149,"y":3.8},{"probe":5,"x":0.174,"y":3.42},{"probe":5,"x":0.205,"y":3},{"probe":5,"x":0.249,"y":2.53},{"probe":5,"x":0.299,"y":2.22},{"probe":5,"x":0.361,"y":2},{"probe":5,"x":0.411,"y":1.87},{"probe":5,"x":0.4675,"y":1.75},{"probe":5,"x":0.5425,"y":1.62},{"probe":5,"x":0.611,"y":1.54},{"probe":5,"x":0.705,"y":1.44},{"probe":5,"x":0.7475,"y":1.39},{"probe":5,"x":0.811,"y":1.32},{"probe":5,"x":0.904,"y":1.25},{"probe":5,"x":1.009,"y":1.17},{"probe":5,"x":1.135,"y":1.09},{"probe":5,"x":1.243,"y":1.05},{"probe":5,"x":1.6,"y":1.03}],
"botDash":[
{"probe":1,"x":0.011,"y":108},{"probe":1,"x":0.0425,"y":106},{"probe":1,"x":0.0925,"y":102},{"probe":1,"x":0.161,"y":98},{"probe":1,"x":0.2175,"y":86},{"probe":1,"x":0.2675,"y":75.7},{"probe":1,"x":0.33,"y":65.8},{"probe":1,"x":0.3925,"y":60.1},{"probe":1,"x":0.449,"y":55},{"probe":1,"x":0.508,"y":50.8},{"probe":1,"x":0.5675,"y":46.5},{"probe":1,"x":0.63,"y":43},{"probe":1,"x":0.686,"y":38.8},{"probe":1,"x":0.7475,"y":34.1},{"probe":1,"x":0.847,"y":27.1},{"probe":1,"x":0.915,"y":22.6},{"probe":1,"x":0.958,"y":18.9},{"probe":1,"x":0.996,"y":14.3},{"probe":1,"x":1.052,"y":8.7},{"probe":1,"x":1.095,"y":5.7},{"probe":1,"x":1.136,"y":4.06},{"probe":1,"x":1.176,"y":2.74},{"probe":1,"x":1.226,"y":2},{"probe":1,"x":1.28,"y":1.66},{"probe":1,"x":1.336,"y":1.35},{"probe":1,"x":1.384,"y":1.22},{"probe":1,"x":1.459,"y":1.11},{"probe":1,"x":1.6,"y":1.07},
{"probe":2,"x":0.011,"y":63.7},{"probe":2,"x":0.036,"y":62.5},{"probe":2,"x":0.0925,"y":60.1},{"probe":2,"x":0.161,"y":57.4},{"probe":2,"x":0.2175,"y":50.2},{"probe":2,"x":0.274,"y":43.6},{"probe":2,"x":0.33,"y":39.1},{"probe":2,"x":0.389,"y":35.1},{"probe":2,"x":0.449,"y":32.4},{"probe":2,"x":0.505,"y":29.6},{"probe":2,"x":0.5675,"y":26.7},{"probe":2,"x":0.636,"y":24.2},{"probe":2,"x":0.686,"y":22.3},{"probe":2,"x":0.7475,"y":19.7},{"probe":2,"x":0.781,"y":18.1},{"probe":2,"x":0.85,"y":15.8},{"probe":2,"x":0.935,"y":11.9},{"probe":2,"x":0.977,"y":9.64},{"probe":2,"x":1.0135,"y":7.62},{"probe":2,"x":1.0635,"y":5},{"probe":2,"x":1.1,"y":3.66},{"probe":2,"x":1.15,"y":2.96},{"probe":2,"x":1.181,"y":2.34},{"probe":2,"x":1.224,"y":1.8},{"probe":2,"x":1.274,"y":1.5},{"probe":2,"x":1.366,"y":1.18},{"probe":2,"x":1.459,"y":1.1},{"probe":2,"x":1.6,"y":1.06},
{"probe":3,"x":0.011,"y":25.9},{"probe":3,"x":0.039,"y":25.4},{"probe":3,"x":0.086,"y":24.8},{"probe":3,"x":0.161,"y":23.8},{"probe":3,"x":0.211,"y":20.9},{"probe":3,"x":0.249,"y":18.9},{"probe":3,"x":0.305,"y":17.2},{"probe":3,"x":0.361,"y":15.5},{"probe":3,"x":0.436,"y":13.9},{"probe":3,"x":0.499,"y":12.7},{"probe":3,"x":0.556,"y":11.6},{"probe":3,"x":0.618,"y":10.7},{"probe":3,"x":0.674,"y":9.9},{"probe":3,"x":0.7475,"y":8.7},{"probe":3,"x":0.791,"y":7.92},{"probe":3,"x":0.847,"y":6.95},{"probe":3,"x":0.904,"y":5.86},{"probe":3,"x":0.96,"y":4.88},{"probe":3,"x":1.003,"y":4.17},{"probe":3,"x":1.046,"y":3.29},{"probe":3,"x":1.089,"y":2.6},{"probe":3,"x":1.139,"y":2.11},{"probe":3,"x":1.188,"y":1.71},{"probe":3,"x":1.237,"y":1.46},{"probe":3,"x":1.304,"y":1.28},{"probe":3,"x":1.391,"y":1.14},{"probe":3,"x":1.6,"y":1.06},
{"probe":4,"x":0.011,"y":6.34},{"probe":4,"x":0.0425,"y":6.27},{"probe":4,"x":0.086,"y":6.17},{"probe":4,"x":0.161,"y":6.04},{"probe":4,"x":0.2175,"y":5.35},{"probe":4,"x":0.274,"y":4.69},{"probe":4,"x":0.33,"y":4.28},{"probe":4,"x":0.3925,"y":3.9},{"probe":4,"x":0.455,"y":3.6},{"probe":4,"x":0.5175,"y":3.37},{"probe":4,"x":0.58,"y":3.13},{"probe":4,"x":0.636,"y":2.96},{"probe":4,"x":0.699,"y":2.74},{"probe":4,"x":0.7475,"y":2.53},{"probe":4,"x":0.811,"y":2.33},{"probe":4,"x":0.904,"y":2},{"probe":4,"x":1.009,"y":1.62},{"probe":4,"x":1.083,"y":1.44},{"probe":4,"x":1.135,"y":1.33},{"probe":4,"x":1.181,"y":1.22},{"probe":4,"x":1.243,"y":1.12},{"probe":4,"x":1.366,"y":1.06},{"probe":4,"x":1.6,"y":1.05},
{"probe":5,"x":0.011,"y":2.49},{"probe":5,"x":0.0425,"y":2.51},{"probe":5,"x":0.086,"y":2.51},{"probe":5,"x":0.161,"y":2.48},{"probe":5,"x":0.205,"y":2.25},{"probe":5,"x":0.2675,"y":2},{"probe":5,"x":0.324,"y":1.85},{"probe":5,"x":0.386,"y":1.73},{"probe":5,"x":0.449,"y":1.64},{"probe":5,"x":0.505,"y":1.58},{"probe":5,"x":0.571,"y":1.52},{"probe":5,"x":0.6425,"y":1.48},{"probe":5,"x":0.705,"y":1.44},{"probe":5,"x":0.7475,"y":1.39},{"probe":5,"x":0.811,"y":1.32},{"probe":5,"x":0.904,"y":1.25},{"probe":5,"x":1.009,"y":1.17},{"probe":5,"x":1.135,"y":1.09},{"probe":5,"x":1.243,"y":1.05},{"probe":5,"x":1.6,"y":1.03}],
"botDot":[
{"probe":1,"x":0.014,"y":455},{"probe":1,"x":0.049,"y":461},{"probe":1,"x":0.0925,"y":454},{"probe":1,"x":0.124,"y":440},{"probe":1,"x":0.139,"y":407},{"probe":1,"x":0.155,"y":372},{"probe":1,"x":0.1675,"y":315},{"probe":1,"x":0.18,"y":281},{"probe":1,"x":0.199,"y":217},{"probe":1,"x":0.211,"y":196},{"probe":1,"x":0.236,"y":152},{"probe":1,"x":0.252,"y":137},{"probe":1,"x":0.286,"y":111},{"probe":1,"x":0.305,"y":102},{"probe":1,"x":0.349,"y":85},{"probe":1,"x":0.371,"y":79.8},{"probe":1,"x":0.4175,"y":69.2},{"probe":1,"x":0.439,"y":65.8},{"probe":1,"x":0.4925,"y":58.6},{"probe":1,"x":0.5675,"y":50.8},{"probe":1,"x":0.6425,"y":44.2},{"probe":1,"x":0.711,"y":38.4},{"probe":1,"x":0.7475,"y":35.1},{"probe":1,"x":0.804,"y":31.2},{"probe":1,"x":0.841,"y":27.8},{"probe":1,"x":0.878,"y":25.4},{"probe":1,"x":0.915,"y":22.3},{"probe":1,"x":0.952,"y":19.4},{"probe":1,"x":0.996,"y":15.8},{"probe":1,"x":1.033,"y":11},{"probe":1,"x":1.07,"y":7.5},{"probe":1,"x":1.107,"y":5.27},{"probe":1,"x":1.15,"y":3.66},{"probe":1,"x":1.194,"y":2.64},{"probe":1,"x":1.243,"y":1.95},{"probe":1,"x":1.28,"y":1.62},{"probe":1,"x":1.341,"y":1.3},{"probe":1,"x":1.397,"y":1.18},{"probe":1,"x":1.459,"y":1.12},{"probe":1,"x":1.6,"y":1.07},
{"probe":2,"x":0.014,"y":258},{"probe":2,"x":0.049,"y":262},{"probe":2,"x":0.0925,"y":257},{"probe":2,"x":0.124,"y":249},{"probe":2,"x":0.139,"y":232},{"probe":2,"x":0.155,"y":209},{"probe":2,"x":0.1675,"y":179},{"probe":2,"x":0.199,"y":122},{"probe":2,"x":0.236,"y":88.3},{"probe":2,"x":0.2675,"y":71.9},{"probe":2,"x":0.305,"y":57.8},{"probe":2,"x":0.349,"y":48.3},{"probe":2,"x":0.3925,"y":42},{"probe":2,"x":0.439,"y":37.3},{"probe":2,"x":0.486,"y":33.3},{"probe":2,"x":0.5675,"y":28.9},{"probe":2,"x":0.624,"y":25.8},{"probe":2,"x":0.686,"y":22.9},{"probe":2,"x":0.7475,"y":20.4},{"probe":2,"x":0.83,"y":16.7},{"probe":2,"x":0.881,"y":14.7},{"probe":2,"x":0.918,"y":13.2},{"probe":2,"x":0.984,"y":10.2},{"probe":2,"x":1.015,"y":8.24},{"probe":2,"x":1.046,"y":6.34},{"probe":2,"x":1.07,"y":5.14},{"probe":2,"x":1.09,"y":4.51},{"probe":2,"x":1.12,"y":3.66},{"probe":2,"x":1.176,"y":2.67},{"probe":2,"x":1.224,"y":1.9},{"probe":2,"x":1.267,"y":1.54},{"probe":2,"x":1.366,"y":1.18},{"probe":2,"x":1.459,"y":1.1},{"probe":2,"x":1.6,"y":1.06},
{"probe":3,"x":0.014,"y":82.4},{"probe":3,"x":0.049,"y":84.1},{"probe":3,"x":0.0925,"y":83.3},{"probe":3,"x":0.124,"y":81.3},{"probe":3,"x":0.139,"y":75.7},{"probe":3,"x":0.155,"y":68.4},{"probe":3,"x":0.1675,"y":58.6},{"probe":3,"x":0.18,"y":52.2},{"probe":3,"x":0.199,"y":40.4},{"probe":3,"x":0.211,"y":36},{"probe":3,"x":0.249,"y":25.1},{"probe":3,"x":0.2675,"y":22.6},{"probe":3,"x":0.305,"y":18.5},{"probe":3,"x":0.349,"y":16.7},{"probe":3,"x":0.4175,"y":13.2},{"probe":3,"x":0.4925,"y":11.3},{"probe":3,"x":0.5675,"y":9.77},{"probe":3,"x":0.6425,"y":8.45},{"probe":3,"x":0.711,"y":7.41},{"probe":3,"x":0.7475,"y":6.85},{"probe":3,"x":0.835,"y":5.56},{"probe":3,"x":0.879,"y":5.07},{"probe":3,"x":0.935,"y":4.28},{"probe":3,"x":0.966,"y":3.85},{"probe":3,"x":1.027,"y":3.04},{"probe":3,"x":1.071,"y":2.53},{"probe":3,"x":1.12,"y":2.05},{"probe":3,"x":1.2,"y":1.62},{"probe":3,"x":1.243,"y":1.46},{"probe":3,"x":1.304,"y":1.28},{"probe":3,"x":1.391,"y":1.14},{"probe":3,"x":1.6,"y":1.06},
{"probe":4,"x":0.014,"y":25.9},{"probe":4,"x":0.049,"y":26.7},{"probe":4,"x":0.0925,"y":26.4},{"probe":4,"x":0.124,"y":25.8},{"probe":4,"x":0.139,"y":24.2},{"probe":4,"x":0.155,"y":22.1},{"probe":4,"x":0.171,"y":18.7},{"probe":4,"x":0.18,"y":16.7},{"probe":4,"x":0.199,"y":13.2},{"probe":4,"x":0.2125,"y":11.6},{"probe":4,"x":0.249,"y":8.69},{"probe":4,"x":0.2675,"y":7.62},{"probe":4,"x":0.305,"y":6.17},{"probe":4,"x":0.349,"y":5.35},{"probe":4,"x":0.3925,"y":4.75},{"probe":4,"x":0.4425,"y":4.22},{"probe":4,"x":0.505,"y":3.75},{"probe":4,"x":0.611,"y":3.21},{"probe":4,"x":0.705,"y":2.78},{"probe":4,"x":0.7475,"y":2.57},{"probe":4,"x":0.811,"y":2.35},{"probe":4,"x":0.904,"y":2},{"probe":4,"x":1.009,"y":1.64},{"probe":4,"x":1.083,"y":1.46},{"probe":4,"x":1.135,"y":1.36},{"probe":4,"x":1.2,"y":1.25},{"probe":4,"x":1.3,"y":1.12},{"probe":4,"x":1.4,"y":1.07},{"probe":4,"x":1.6,"y":1.05},
{"probe":5,"x":0.014,"y":8.97},{"probe":5,"x":0.049,"y":9.25},{"probe":5,"x":0.0925,"y":9.23},{"probe":5,"x":0.124,"y":9.06},{"probe":5,"x":0.139,"y":8.49},{"probe":5,"x":0.155,"y":7.83},{"probe":5,"x":0.174,"y":6.7},{"probe":5,"x":0.183,"y":6.01},{"probe":5,"x":0.211,"y":4.62},{"probe":5,"x":0.224,"y":4.17},{"probe":5,"x":0.258,"y":3.33},{"probe":5,"x":0.274,"y":3.03},{"probe":5,"x":0.321,"y":2.53},{"probe":5,"x":0.339,"y":2.4},{"probe":5,"x":0.3925,"y":2.1},{"probe":5,"x":0.43,"y":1.97},{"probe":5,"x":0.486,"y":1.82},{"probe":5,"x":0.5425,"y":1.68},{"probe":5,"x":0.605,"y":1.55},{"probe":5,"x":0.705,"y":1.44},{"probe":5,"x":0.7475,"y":1.39},{"probe":5,"x":0.811,"y":1.32},{"probe":5,"x":0.904,"y":1.25},{"probe":5,"x":1.009,"y":1.17},{"probe":5,"x":1.135,"y":1.09},{"probe":5,"x":1.243,"y":1.05},{"probe":5,"x":1.6,"y":1.03}],
"botSym":[
{"probe":1,"x":0.04,"y":59},{"probe":1,"x":0.093,"y":55.5},{"probe":1,"x":0.146,"y":52.6},{"probe":1,"x":0.198,"y":50},{"probe":1,"x":0.25,"y":47.4},{"probe":1,"x":0.303,"y":45.2},{"probe":1,"x":0.356,"y":42.9},{"probe":1,"x":0.408,"y":40.2},{"probe":1,"x":0.46,"y":37.5},{"probe":1,"x":0.5125,"y":34.7},{"probe":1,"x":0.566,"y":31.6},{"probe":1,"x":0.618,"y":28.7},{"probe":1,"x":0.671,"y":25.4},{"probe":1,"x":0.723,"y":22.1},{"probe":1,"x":0.777,"y":18.3},{"probe":1,"x":0.83,"y":15.5},{"probe":1,"x":0.883,"y":9.64},{"probe":1,"x":0.925,"y":6.38},{"probe":1,"x":0.967,"y":4.42},{"probe":1,"x":1.01,"y":3.27},{"probe":1,"x":1.041,"y":2.68},{"probe":1,"x":1.083,"y":2.16},{"probe":1,"x":1.135,"y":1.73},{"probe":1,"x":1.177,"y":1.5},{"probe":1,"x":1.23,"y":1.3},{"probe":1,"x":1.272,"y":1.18},{"probe":1,"x":1.325,"y":1.09},{"probe":1,"x":1.366,"y":1.07},{"probe":1,"x":1.409,"y":1.06},{"probe":1,"x":1.462,"y":1.05},{"probe":1,"x":1.492,"y":1.045},{"probe":1,"x":1.514,"y":1.04},{"probe":1,"x":1.566,"y":1.03},
{"probe":2,"x":0.04,"y":33.3},{"probe":2,"x":0.093,"y":31.2},{"probe":2,"x":0.146,"y":29.6},{"probe":2,"x":0.198,"y":28.2},{"probe":2,"x":0.25,"y":26.8},{"probe":2,"x":0.303,"y":25.4},{"probe":2,"x":0.356,"y":24.1},{"probe":2,"x":0.408,"y":22.8},{"probe":2,"x":0.46,"y":21.2},{"probe":2,"x":0.5125,"y":19.6},{"probe":2,"x":0.566,"y":17.9},{"probe":2,"x":0.618,"y":16.3},{"probe":2,"x":0.671,"y":14.4},{"probe":2,"x":0.723,"y":12.6},{"probe":2,"x":0.777,"y":10.7},{"probe":2,"x":0.83,"y":8.91},{"probe":2,"x":0.883,"y":6.34},{"probe":2,"x":0.925,"y":4.59},{"probe":2,"x":0.967,"y":3.44},{"probe":2,"x":1.01,"y":2.68},{"probe":2,"x":1.041,"y":2.28},{"probe":2,"x":1.083,"y":1.9},{"probe":2,"x":1.135,"y":1.57},{"probe":2,"x":1.177,"y":1.39},{"probe":2,"x":1.23,"y":1.23},{"probe":2,"x":1.272,"y":1.15},{"probe":2,"x":1.325,"y":1.09},{"probe":2,"x":1.366,"y":1.06},{"probe":2,"x":1.409,"y":1.05},{"probe":2,"x":1.462,"y":1.04},
{"probe":3,"x":0.04,"y":10.6},{"probe":3,"x":0.093,"y":9.95},{"probe":3,"x":0.146,"y":9.47},{"probe":3,"x":0.198,"y":9.05},{"probe":3,"x":0.25,"y":8.64},{"probe":3,"x":0.303,"y":8.22},{"probe":3,"x":0.356,"y":7.83},{"probe":3,"x":0.408,"y":7.41},{"probe":3,"x":0.46,"y":6.93},{"probe":3,"x":0.5125,"y":6.46},{"probe":3,"x":0.566,"y":5.93},{"probe":3,"x":0.618,"y":5.42},{"probe":3,"x":0.671,"y":4.88},{"probe":3,"x":0.723,"y":4.33},{"probe":3,"x":0.777,"y":3.82},{"probe":3,"x":0.83,"y":3.32},{"probe":3,"x":0.883,"y":2.79},{"probe":3,"x":0.925,"y":2.38},{"probe":3,"x":0.967,"y":2.05},{"probe":3,"x":1.01,"y":1.79},{"probe":3,"x":1.041,"y":1.63},{"probe":3,"x":1.083,"y":1.47},{"probe":3,"x":1.135,"y":1.32},{"probe":3,"x":1.177,"y":1.22},{"probe":3,"x":1.23,"y":1.14},{"probe":3,"x":1.272,"y":1.1},{"probe":3,"x":1.325,"y":1.06},{"probe":3,"x":1.366,"y":1.05},{"probe":3,"x":1.409,"y":1.04},{"probe":3,"x":1.462,"y":1.04},
{"probe":4,"x":0.04,"y":3.42},{"probe":4,"x":0.093,"y":3.27},{"probe":4,"x":0.146,"y":3.14},{"probe":4,"x":0.198,"y":3.03},{"probe":4,"x":0.25,"y":2.92},{"probe":4,"x":0.303,"y":2.82},{"probe":4,"x":0.356,"y":2.71},{"probe":4,"x":0.408,"y":2.6},{"probe":4,"x":0.46,"y":2.48},{"probe":4,"x":0.5125,"y":2.35},{"probe":4,"x":0.566,"y":2.23},{"probe":4,"x":0.618,"y":2.1},{"probe":4,"x":0.671,"y":1.96},{"probe":4,"x":0.723,"y":1.84},{"probe":4,"x":0.777,"y":1.71},{"probe":4,"x":0.83,"y":1.6},{"probe":4,"x":0.883,"y":1.49},{"probe":4,"x":0.925,"y":1.41},{"probe":4,"x":0.967,"y":1.34},{"probe":4,"x":1.01,"y":1.27},{"probe":4,"x":1.041,"y":1.22},{"probe":4,"x":1.083,"y":1.18},{"probe":4,"x":1.135,"y":1.13},{"probe":4,"x":1.177,"y":1.1},{"probe":4,"x":1.23,"y":1.07},{"probe":4,"x":1.272,"y":1.06},{"probe":4,"x":1.325,"y":1.04},{"probe":4,"x":1.366,"y":1.03},{"probe":4,"x":1.409,"y":1.03},{"probe":4,"x":1.462,"y":1.03},
{"probe":5,"x":0.04,"y":1.42},{"probe":5,"x":0.093,"y":1.39},{"probe":5,"x":0.146,"y":1.37},{"probe":5,"x":0.198,"y":1.35},{"probe":5,"x":0.25,"y":1.33},{"probe":5,"x":0.303,"y":1.31},{"probe":5,"x":0.356,"y":1.29},{"probe":5,"x":0.408,"y":1.27},{"probe":5,"x":0.46,"y":1.25},{"probe":5,"x":0.5125,"y":1.23},{"probe":5,"x":0.566,"y":1.2},{"probe":5,"x":0.618,"y":1.18},{"probe":5,"x":0.671,"y":1.16},{"probe":5,"x":0.723,"y":1.14},{"probe":5,"x":0.777,"y":1.12},{"probe":5,"x":0.83,"y":1.1},{"probe":5,"x":0.883,"y":1.09},{"probe":5,"x":0.925,"y":1.08},{"probe":5,"x":0.967,"y":1.06},{"probe":5,"x":1.01,"y":1.05},{"probe":5,"x":1.041,"y":1.04},{"probe":5,"x":1.083,"y":1.04},{"probe":5,"x":1.135,"y":1.03},{"probe":5,"x":1.177,"y":1.03},{"probe":5,"x":1.23,"y":1.02},{"probe":5,"x":1.272,"y":1.02},{"probe":5,"x":1.325,"y":1.02},{"probe":5,"x":1.366,"y":1.02},{"probe":5,"x":1.409,"y":1.02},{"probe":5,"x":1.462,"y":1.02},{"probe":5,"x":1.514,"y":1.02},{"probe":5,"x":1.566,"y":1.02},{"probe":5,"x":1.6,"y":1.02}]
},
"vconcat":[
{"width":1404,"height":1131,"resolve":{"axis":{"x":"independent","y":"independent"}},
"encoding":{"x":{"field":"x","type":"quantitative","scale":{"domain":[0,1.6],"nice":false,"zero":false},"axis":null},"y":{"field":"y","type":"quantitative","scale":{"type":"log","domain":[1,90000],"nice":false},"axis":null}},
"layer":[
{"data":{"values":[{"x":1.259,"x2":1.285,"y":17060,"y2":1995},{"x":1.4,"x2":1.4245,"y":17060,"y2":1995},{"x":1.259,"x2":1.4245,"y":2620,"y2":1995}]},"mark":{"type":"rect","color":"#808080"},"encoding":{"x2":{"field":"x2"},"y2":{"field":"y2"}}},
{"data":{"name":"topSolid"},"mark":{"type":"line","strokeWidth":5.5,"interpolate":"monotone"},"encoding":{"x":{"field":"x","type":"quantitative","scale":{"domain":[0,1.6],"nice":false,"zero":false},"axis":{"orient":"bottom","values":[0,0.2,0.4,0.6,0.8,1,1.2,1.4,1.6],"labels":false,"tickSize":22,"tickWidth":4,"domainWidth":4.5}},"y":{"field":"y","type":"quantitative","scale":{"type":"log","domain":[1,90000],"nice":false},"axis":{"orient":"left","values":[1,10,100,1000,10000],"format":".0f","tickSize":24,"tickWidth":3.5,"domainWidth":4.5,"labelPadding":15}},"color":{"field":"probe","type":"nominal","scale":{"domain":[1,2,3,4,5],"range":["#000000","#ff0000","#008000","#0000ff","#ff00ff"]},"legend":null}}},
{"data":{"name":"topDash"},"mark":{"type":"line","strokeWidth":5,"strokeDash":[28,22],"interpolate":"monotone"},"encoding":{"x":{"field":"x","type":"quantitative","scale":{"domain":[0,1.6],"nice":false,"zero":false},"axis":{"orient":"bottom","values":[0.1,0.3,0.5,0.7,0.9,1.1,1.3,1.5],"labels":false,"domain":false,"tickSize":11,"tickWidth":3.5}},"y":{"field":"y","type":"quantitative","scale":{"type":"log","domain":[1,90000],"nice":false},"axis":{"orient":"left","values":[2,3,4,5,6,7,8,9,20,30,40,50,60,70,80,90,200,300,400,500,600,700,800,900,2000,3000,4000,5000,6000,7000,8000,9000,20000,30000,40000,50000,60000,70000,80000,90000],"labels":false,"domain":false,"tickSize":12,"tickWidth":3}},"color":{"field":"probe","type":"nominal","scale":{"domain":[1,2,3,4,5],"range":["#000000","#ff0000","#008000","#0000ff","#ff00ff"]},"legend":null}}},
{"data":{"name":"topDot"},"mark":{"type":"line","strokeWidth":5,"strokeDash":[32,15,6,15],"interpolate":"monotone"},"encoding":{"x":{"field":"x","type":"quantitative","scale":{"domain":[0,1.6],"nice":false,"zero":false},"axis":{"orient":"top","values":[0,0.2,0.4,0.6,0.8,1,1.2,1.4,1.6],"labels":false,"tickSize":-21,"tickWidth":3.5,"domainWidth":4.5}},"y":{"field":"y","type":"quantitative","scale":{"type":"log","domain":[1,90000],"nice":false},"axis":{"orient":"right","values":[1,10,100,1000,10000],"labels":false,"tickSize":-22,"tickWidth":3.5,"domainWidth":4.5}},"color":{"field":"probe","type":"nominal","scale":{"domain":[1,2,3,4,5],"range":["#000000","#ff0000","#008000","#0000ff","#ff00ff"]},"legend":null}}},
{"data":{"name":"topSym"},"mark":{"type":"line","strokeWidth":3},"encoding":{"x":{"field":"x","type":"quantitative","scale":{"domain":[0,1.6],"nice":false,"zero":false},"axis":{"orient":"top","values":[0.1,0.3,0.5,0.7,0.9,1.1,1.3,1.5],"labels":false,"domain":false,"tickSize":-10,"tickWidth":3.5}},"y":{"field":"y","type":"quantitative","scale":{"type":"log","domain":[1,90000],"nice":false},"axis":{"orient":"right","values":[2,3,4,5,6,7,8,9,20,30,40,50,60,70,80,90,200,300,400,500,600,700,800,900,2000,3000,4000,5000,6000,7000,8000,9000,20000,30000,40000,50000,60000,70000,80000,90000],"labels":false,"domain":false,"tickSize":-11,"tickWidth":3}},"color":{"field":"probe","type":"nominal","scale":{"domain":[1,2,3,4,5],"range":["#000000","#ff0000","#008000","#0000ff","#ff00ff"]},"legend":null}}},
{"data":{"name":"topSym"},"mark":{"type":"point","filled":true,"opacity":1,"size":85},"encoding":{"color":{"field":"probe","type":"nominal","scale":{"domain":[1,2,3,4,5],"range":["#000000","#ff0000","#008000","#0000ff","#ff00ff"]},"legend":null}}},
{"data":{"values":[{"x":1.347,"x2":1.347,"y":40200,"y2":21900},{"x":1.33,"x2":1.347,"y":32800,"y2":40200},{"x":1.364,"x2":1.347,"y":32800,"y2":40200},{"x":1.347,"x2":1.544,"y":2620,"y2":2620},{"x":1.528,"x2":1.544,"y":2838,"y2":2620},{"x":1.528,"x2":1.544,"y":2415,"y2":2620},{"x":1.3766,"x2":1.3766,"y":52200,"y2":29700},{"x":1.3666,"x2":1.3766,"y":42700,"y2":52200},{"x":1.3866,"x2":1.3766,"y":42700,"y2":52200},{"x":1.265,"x2":1.331,"y":34500,"y2":18700},{"x":1.265,"x2":1.331,"y":34500,"y2":11600},{"x":1.265,"x2":1.333,"y":34500,"y2":6950}]},"mark":{"type":"rule","color":"black","strokeWidth":2},"encoding":{"x2":{"field":"x2"},"y2":{"field":"y2"}}},
{"data":{"values":[{"x":1.347,"x2":1.347,"y":21900,"y2":2620}]},"mark":{"type":"rule","color":"black","strokeWidth":2.5,"strokeDash":[14,10]},"encoding":{"x2":{"field":"x2"},"y2":{"field":"y2"}}},
{"data":{"values":[{"x":1.331,"y":18700},{"x":1.331,"y":11600},{"x":1.333,"y":6950}]},"mark":{"type":"point","shape":"triangle","filled":true,"opacity":1,"color":"black","size":90,"angle":150},"encoding":{}},
{"data":{"values":[{"probe":5,"x":1.347,"y":17060},{"probe":4,"x":1.347,"y":10600},{"probe":3,"x":1.347,"y":6680},{"probe":2,"x":1.347,"y":4290},{"probe":1,"x":1.347,"y":3080}]},"mark":{"type":"point","filled":true,"opacity":1,"size":190},"encoding":{"color":{"field":"probe","type":"nominal","scale":{"domain":[1,2,3,4,5],"range":["#000000","#ff0000","#008000","#0000ff","#ff00ff"]},"legend":null}}},
{"data":{"values":[{"probe":5,"label":"z","x":1.368,"y":15700},{"probe":4,"label":"z","x":1.368,"y":9800},{"probe":3,"label":"z","x":1.368,"y":6170},{"probe":2,"label":"z","x":1.368,"y":3950},{"probe":1,"label":"z","x":1.368,"y":2838}]},"mark":{"type":"text","font":"Liberation Serif","fontWeight":"bold","fontStyle":"italic","fontSize":26,"align":"left","baseline":"alphabetic"},"encoding":{"text":{"field":"label"},"color":{"field":"probe","type":"nominal","scale":{"domain":[1,2,3,4,5],"range":["#000000","#ff0000","#008000","#0000ff","#ff00ff"]},"legend":null}}},
{"data":{"values":[{"probe":5,"label":"5","x":1.383,"y":14800},{"probe":4,"label":"4","x":1.383,"y":9230},{"probe":3,"label":"3","x":1.383,"y":5810},{"probe":2,"label":"2","x":1.383,"y":3720},{"probe":1,"label":"1","x":1.383,"y":2670}]},"mark":{"type":"text","font":"Liberation Serif","fontWeight":"bold","fontSize":18,"align":"left","baseline":"alphabetic"},"encoding":{"text":{"field":"label"},"color":{"field":"probe","type":"nominal","scale":{"domain":[1,2,3,4,5],"range":["#000000","#ff0000","#008000","#0000ff","#ff00ff"]},"legend":null}}},
{"data":{"values":[{"label":"Hall","x":1.182,"y":36300},{"label":"probes","x":1.18,"y":28100},{"label":"z","x":1.322,"y":35600},{"label":"y","x":1.526,"y":3140},{"label":"H","x":1.416,"y":36000}]},"mark":{"type":"text","font":"Liberation Serif","fontWeight":"bold","fontStyle":"italic","fontSize":24,"align":"left","baseline":"alphabetic","color":"black"},"encoding":{"text":{"field":"label"}}},
{"data":{"values":[{"label":"μ","x":1.391,"y":36000}]},"mark":{"type":"text","font":"Liberation Serif","fontSize":24,"align":"left","baseline":"alphabetic","color":"black"},"encoding":{"text":{"field":"label"}}},
{"data":{"values":[{"label":"0","x":1.406,"y":34200}]},"mark":{"type":"text","font":"Liberation Serif","fontSize":14,"align":"left","baseline":"alphabetic","color":"black"},"encoding":{"text":{"field":"label"}}},
{"data":{"values":[{"label":"appl","x":1.439,"y":35200}]},"mark":{"type":"text","font":"Liberation Serif","fontWeight":"bold","fontSize":16,"align":"left","baseline":"alphabetic","color":"black"},"encoding":{"text":{"field":"label"}}},
{"data":{"values":[{"label":"z = 0","x":1.432,"y":2810}]},"mark":{"type":"text","font":"Liberation Sans","fontStyle":"italic","fontSize":25,"align":"left","baseline":"alphabetic","color":"black"},"encoding":{"text":{"field":"label"}}},
{"data":{"values":[{"label":"Shielding factor (","x":1.667,"y":10500},{"label":"μ","x":1.667,"y":113},{"label":"H","x":1.667,"y":71},{"label":"/","x":1.667,"y":21.4},{"label":"B","x":1.667,"y":15.7},{"label":")","x":1.667,"y":9.74}]},"mark":{"type":"text","font":"Liberation Sans","fontSize":60,"angle":90,"align":"left","baseline":"alphabetic","color":"black"},"encoding":{"text":{"field":"label"}}},
{"data":{"values":[{"label":"0","x":1.654,"y":79.3},{"label":"appl","x":1.654,"y":46},{"label":"z","x":1.654,"y":10.9}]},"mark":{"type":"text","font":"Liberation Sans","fontSize":38,"angle":90,"align":"left","baseline":"alphabetic","color":"black"},"encoding":{"text":{"field":"label"}}},
{"data":{"values":[{"x":-0.24,"x2":-0.178,"y":1858,"y2":1858},{"x":-0.24,"x2":-0.178,"y":3.94,"y2":3.94},{"x":-0.178,"x2":-0.178,"y":1858,"y2":3.94}]},"mark":{"type":"rule","color":"#2f4f8f","strokeWidth":1.5},"encoding":{"x2":{"field":"x2"},"y2":{"field":"y2"}}},
{"data":{"values":[{"label":"SC","x":-0.1835,"y":658}]},"mark":{"type":"text","font":"Noto Sans","fontSize":40,"align":"right","baseline":"alphabetic","color":"#1d3f4d"},"encoding":{"text":{"field":"label"}}}
]},
{"width":1404,"height":1131,"resolve":{"axis":{"x":"independent","y":"independent"}},
"encoding":{"x":{"field":"x","type":"quantitative","scale":{"domain":[0,1.6],"nice":false,"zero":false},"axis":null},"y":{"field":"y","type":"quantitative","scale":{"type":"log","domain":[1,1000],"nice":false},"axis":null}},
"layer":[
{"data":{"values":[{"x":1.0906,"x2":1.4006,"y":33.8,"y2":28.5},{"x":1.0906,"x2":1.1305,"y":33.8,"y2":10.9},{"x":1.0906,"x2":1.4006,"y":13,"y2":10.9}]},"mark":{"type":"rect","color":"#808080"},"encoding":{"x2":{"field":"x2"},"y2":{"field":"y2"}}},
{"data":{"name":"botSolid"},"mark":{"type":"line","strokeWidth":4.5,"interpolate":"monotone"},"encoding":{"x":{"field":"x","type":"quantitative","scale":{"domain":[0,1.6],"nice":false,"zero":false},"axis":{"orient":"bottom","values":[0,0.2,0.4,0.6,0.8,1,1.2,1.4,1.6],"format":".1f","tickSize":22,"tickWidth":4,"domainWidth":4.5,"labelPadding":15}},"y":{"field":"y","type":"quantitative","scale":{"type":"log","domain":[1,1000],"nice":false},"axis":{"orient":"left","values":[1,10,100,1000],"format":".0f","tickSize":24,"tickWidth":3.5,"domainWidth":4.5,"labelPadding":15}},"color":{"field":"probe","type":"nominal","scale":{"domain":[1,2,3,4,5],"range":["#000000","#ff0000","#008000","#0000ff","#ff00ff"]},"legend":null}}},
{"data":{"name":"botDash"},"mark":{"type":"line","strokeWidth":4.5,"strokeDash":[28,24],"interpolate":"monotone"},"encoding":{"x":{"field":"x","type":"quantitative","scale":{"domain":[0,1.6],"nice":false,"zero":false},"axis":{"orient":"bottom","values":[0.1,0.3,0.5,0.7,0.9,1.1,1.3,1.5],"labels":false,"domain":false,"tickSize":11,"tickWidth":3.5}},"y":{"field":"y","type":"quantitative","scale":{"type":"log","domain":[1,1000],"nice":false},"axis":{"orient":"left","values":[2,3,4,5,6,7,8,9,20,30,40,50,60,70,80,90,200,300,400,500,600,700,800,900],"labels":false,"domain":false,"tickSize":12,"tickWidth":3}},"color":{"field":"probe","type":"nominal","scale":{"domain":[1,2,3,4,5],"range":["#000000","#ff0000","#008000","#0000ff","#ff00ff"]},"legend":null}}},
{"data":{"name":"botDot"},"mark":{"type":"line","strokeWidth":4.5,"strokeDash":[32,15,6,15],"interpolate":"monotone"},"encoding":{"x":{"field":"x","type":"quantitative","scale":{"domain":[0,1.6],"nice":false,"zero":false},"axis":{"orient":"top","values":[0,0.2,0.4,0.6,0.8,1,1.2,1.4,1.6],"labels":false,"tickSize":-21,"tickWidth":3.5,"domainWidth":4.5}},"y":{"field":"y","type":"quantitative","scale":{"type":"log","domain":[1,1000],"nice":false},"axis":{"orient":"right","values":[1,10,100,1000],"labels":false,"tickSize":-22,"tickWidth":3.5,"domainWidth":4.5}},"color":{"field":"probe","type":"nominal","scale":{"domain":[1,2,3,4,5],"range":["#000000","#ff0000","#008000","#0000ff","#ff00ff"]},"legend":null}}},
{"data":{"name":"botSym"},"mark":{"type":"line","strokeWidth":3.2},"encoding":{"x":{"field":"x","type":"quantitative","scale":{"domain":[0,1.6],"nice":false,"zero":false},"axis":{"orient":"top","values":[0.1,0.3,0.5,0.7,0.9,1.1,1.3,1.5],"labels":false,"domain":false,"tickSize":-10,"tickWidth":3.5}},"y":{"field":"y","type":"quantitative","scale":{"type":"log","domain":[1,1000],"nice":false},"axis":{"orient":"right","values":[2,3,4,5,6,7,8,9,20,30,40,50,60,70,80,90,200,300,400,500,600,700,800,900],"labels":false,"domain":false,"tickSize":-11,"tickWidth":3}},"color":{"field":"probe","type":"nominal","scale":{"domain":[1,2,3,4,5],"range":["#000000","#ff0000","#008000","#0000ff","#ff00ff"]},"legend":null}}},
{"data":{"name":"botSym"},"mark":{"type":"point","filled":true,"opacity":1,"size":230},"encoding":{"color":{"field":"probe","type":"nominal","scale":{"domain":[1,2,3,4,5],"range":["#000000","#ff0000","#008000","#0000ff","#ff00ff"]},"legend":null}}},
{"data":{"values":[{"x":1.1305,"x2":1.1305,"y":76.2,"y2":18.7},{"x":1.119,"x2":1.1305,"y":67.5,"y2":76.2},{"x":1.142,"x2":1.1305,"y":67.5,"y2":76.2},{"x":1.42,"x2":1.5407,"y":18.7,"y2":18.7},{"x":1.5236,"x2":1.5407,"y":19.6,"y2":18.7},{"x":1.5236,"x2":1.5407,"y":17.7,"y2":18.7},{"x":1.1715,"x2":1.1715,"y":81,"y2":52.5},{"x":1.1615,"x2":1.1715,"y":72.1,"y2":81},{"x":1.1815,"x2":1.1715,"y":72.1,"y2":81}]},"mark":{"type":"rule","color":"black","strokeWidth":2.2},"encoding":{"x2":{"field":"x2"},"y2":{"field":"y2"}}},
{"data":{"values":[{"x":1.1305,"x2":1.42,"y":18.7,"y2":18.7}]},"mark":{"type":"rule","color":"black","strokeWidth":2.5,"strokeDash":[14,10]},"encoding":{"x2":{"field":"x2"},"y2":{"field":"y2"}}},
{"data":{"values":[{"probe":1,"x":1.1556,"y":18.6},{"probe":2,"x":1.2023,"y":18.6},{"probe":3,"x":1.2661,"y":18.6},{"probe":4,"x":1.3322,"y":18.6},{"probe":5,"x":1.4006,"y":18.6}]},"mark":{"type":"point","filled":true,"opacity":1,"size":300},"encoding":{"color":{"field":"probe","type":"nominal","scale":{"domain":[1,2,3,4,5],"range":["#000000","#ff0000","#008000","#0000ff","#ff00ff"]},"legend":null}}},
{"data":{"values":[{"probe":1,"label":"y","x":1.1498,"y":14.7},{"probe":2,"label":"y","x":1.1954,"y":14.7},{"probe":3,"label":"y","x":1.258,"y":14.7},{"probe":4,"label":"y","x":1.324,"y":14.7},{"probe":5,"label":"y","x":1.393,"y":14.7}]},"mark":{"type":"text","font":"Liberation Serif","fontWeight":"bold","fontStyle":"italic","fontSize":30,"align":"left","baseline":"alphabetic"},"encoding":{"text":{"field":"label"},"color":{"field":"probe","type":"nominal","scale":{"domain":[1,2,3,4,5],"range":["#000000","#ff0000","#008000","#0000ff","#ff00ff"]},"legend":null}}},
{"data":{"values":[{"probe":1,"label":"1","x":1.167,"y":14.2},{"probe":2,"label":"2","x":1.2124,"y":14.2},{"probe":3,"label":"3","x":1.275,"y":14.2},{"probe":4,"label":"4","x":1.341,"y":14.2},{"probe":5,"label":"5","x":1.41,"y":14.2}]},"mark":{"type":"text","font":"Liberation Serif","fontWeight":"bold","fontSize":20,"align":"left","baseline":"alphabetic"},"encoding":{"text":{"field":"label"},"color":{"field":"probe","type":"nominal","scale":{"domain":[1,2,3,4,5],"range":["#000000","#ff0000","#008000","#0000ff","#ff00ff"]},"legend":null}}},
{"data":{"values":[{"label":"z","x":1.1,"y":73.5},{"label":"y","x":1.519,"y":21},{"label":"H","x":1.218,"y":60}]},"mark":{"type":"text","font":"Liberation Serif","fontWeight":"bold","fontStyle":"italic","fontSize":27,"align":"left","baseline":"alphabetic","color":"black"},"encoding":{"text":{"field":"label"}}},
{"data":{"values":[{"label":"μ","x":1.19,"y":60}]},"mark":{"type":"text","font":"Liberation Serif","fontSize":27,"align":"left","baseline":"alphabetic","color":"black"},"encoding":{"text":{"field":"label"}}},
{"data":{"values":[{"label":"0","x":1.207,"y":58.2}]},"mark":{"type":"text","font":"Liberation Serif","fontSize":16,"align":"left","baseline":"alphabetic","color":"black"},"encoding":{"text":{"field":"label"}}},
{"data":{"values":[{"label":"appl","x":1.246,"y":59}]},"mark":{"type":"text","font":"Liberation Serif","fontWeight":"bold","fontSize":18,"align":"left","baseline":"alphabetic","color":"black"},"encoding":{"text":{"field":"label"}}},
{"data":{"values":[{"label":"y= 0","x":1.111,"y":36.4}]},"mark":{"type":"text","font":"Liberation Sans","fontStyle":"italic","fontSize":25,"angle":-90,"align":"left","baseline":"alphabetic","color":"black"},"encoding":{"text":{"field":"label"}}},
{"data":{"values":[{"label":"symbols: only SC cup","x":0.605,"y":494},{"label":"solid lines: hybrid configuration1","x":0.605,"y":334},{"label":"dashed lines: hybrid configuration2","x":0.605,"y":226},{"label":"dash dot lines: hybrid configuration3","x":0.605,"y":153}]},"mark":{"type":"text","font":"Lato","fontSize":51,"align":"left","baseline":"alphabetic","color":"black"},"encoding":{"text":{"field":"label"}}},
{"data":{"values":[{"label":"μ","x":0.652,"y":0.351},{"label":"H","x":0.715,"y":0.351},{"label":"(T)","x":0.868,"y":0.351}]},"mark":{"type":"text","font":"Liberation Sans","fontSize":58,"align":"left","baseline":"alphabetic","color":"black"},"encoding":{"text":{"field":"label"}}},
{"data":{"values":[{"label":"0","x":0.687,"y":0.32},{"label":"appl","x":0.762,"y":0.32}]},"mark":{"type":"text","font":"Liberation Sans","fontSize":38,"align":"left","baseline":"alphabetic","color":"black"},"encoding":{"text":{"field":"label"}}},
{"data":{"values":[{"label":"Shielding factor (","x":1.667,"y":275},{"label":"μ","x":1.667,"y":17.6},{"label":"H","x":1.667,"y":13.3},{"label":"/","x":1.667,"y":6.42},{"label":"B","x":1.667,"y":5.34},{"label":")","x":1.667,"y":4.11}]},"mark":{"type":"text","font":"Liberation Sans","fontSize":60,"angle":90,"align":"left","baseline":"alphabetic","color":"black"},"encoding":{"text":{"field":"label"}}},
{"data":{"values":[{"label":"0","x":1.654,"y":14.2},{"label":"appl","x":1.654,"y":10.2},{"label":"y","x":1.654,"y":4.67}]},"mark":{"type":"text","font":"Liberation Sans","fontSize":38,"angle":90,"align":"left","baseline":"alphabetic","color":"black"},"encoding":{"text":{"field":"label"}}},
{"data":{"values":[{"x":-0.24,"x2":-0.182,"y":306,"y2":306},{"x":-0.24,"x2":-0.182,"y":48.6,"y2":48.6},{"x":-0.182,"x2":-0.182,"y":306,"y2":48.6}]},"mark":{"type":"rule","color":"#ff0000","strokeWidth":11.5},"encoding":{"x2":{"field":"x2"},"y2":{"field":"y2"}}},
{"data":{"values":[{"label":"F","x":-0.237,"y":780},{"label":"n","x":-0.24,"y":117}]},"mark":{"type":"text","font":"Noto Sans","fontSize":52,"align":"left","baseline":"alphabetic","color":"#1f3864"},"encoding":{"text":{"field":"label"}}},
{"data":{"values":[{"label":"5","x":-0.2245,"y":20.5},{"label":"5","x":-0.2245,"y":9.9},{"label":"5","x":-0.2245,"y":4.76},{"label":"5","x":-0.2245,"y":2.26},{"label":"5","x":-0.2085,"y":1.05}]},"mark":{"type":"text","font":"Noto Sans","fontSize":36,"align":"right","baseline":"alphabetic","color":"#333333"},"encoding":{"text":{"field":"label"}}}
]}
]}
